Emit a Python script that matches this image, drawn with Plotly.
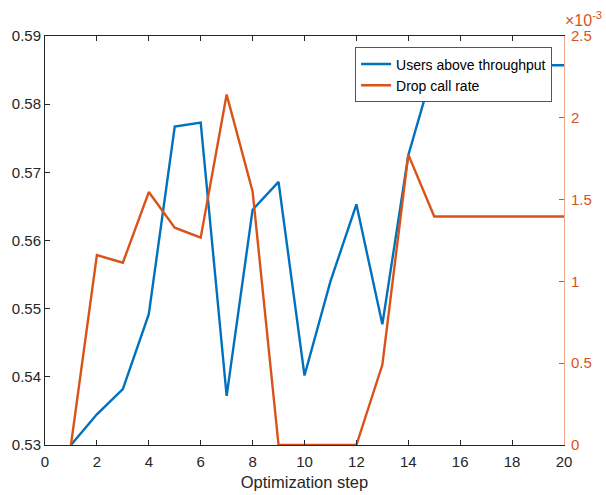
import plotly.graph_objects as go

steps = list(range(1, 21))
users_above = [0.5300, 0.5345, 0.5382, 0.5492, 0.5767, 0.5773, 0.5372, 0.5645, 0.5686, 0.5402,
               0.5540, 0.5653, 0.5477, 0.5725, 0.5857, 0.5857, 0.5857, 0.5857, 0.5857, 0.5857]
drop_rate = [0.0, 1.161e-3, 1.114e-3, 1.546e-3, 1.328e-3, 1.267e-3, 2.142e-3, 1.550e-3, 0.0, 0.0,
             0.0, 0.0, 0.490e-3, 1.775e-3, 1.397e-3, 1.397e-3, 1.397e-3, 1.397e-3, 1.397e-3, 1.397e-3]
x_ticks = list(range(0, 21, 2))
y_left_ticks = [0.53, 0.54, 0.55, 0.56, 0.57, 0.58, 0.59]
y_right_ticks = [0, 0.5e-3, 1.0e-3, 1.5e-3, 2.0e-3, 2.5e-3]
y_right_labels = ["0", "0.5", "1", "1.5", "2", "2.5"]

BLUE = "#0072BD"
ORANGE = "#D95319"
DARK = "#262626"
FONT = "Liberation Sans, Arial, sans-serif"

fig = go.Figure()
fig.add_trace(go.Scatter(x=steps, y=users_above, mode="lines", name="Users above throughput",
                         line=dict(color=BLUE, width=2.4), yaxis="y"))
fig.add_trace(go.Scatter(x=steps, y=drop_rate, mode="lines", name="Drop call rate",
                         line=dict(color=ORANGE, width=2.4), yaxis="y2"))

fig.update_layout(
    width=606, height=495,
    margin=dict(l=45, r=42, t=36, b=50),
    plot_bgcolor="white", paper_bgcolor="white",
    font=dict(family=FONT, size=15, color=DARK),
    showlegend=True,
    legend=dict(x=0.977, y=0.972, xanchor="right", yanchor="top",
                bgcolor="white", bordercolor="#555555", borderwidth=1,
                font=dict(size=14, color="black"),
                tracegroupgap=0),
    xaxis=dict(range=[0, 20], tickvals=x_ticks, ticks="inside", ticklen=5,
               showline=True, linecolor=DARK, linewidth=1, mirror="ticks",
               tickcolor=DARK, showgrid=False, zeroline=False, automargin=False,
               title=dict(text="Optimization step", standoff=7, font=dict(size=16.5)),
               tickfont=dict(size=15, color=DARK), ticklabelstandoff=3),
    yaxis=dict(range=[0.53, 0.59], tickvals=y_left_ticks, tickformat=".2f",
               ticks="inside", ticklen=5, showline=True, linecolor=DARK, linewidth=1,
               tickcolor=DARK, showgrid=False, zeroline=False, automargin=False,
               tickfont=dict(size=15, color=DARK)),
    yaxis2=dict(range=[0, 2.5e-3], overlaying="y", side="right",
                tickvals=y_right_ticks, ticktext=y_right_labels,
                ticks="inside", ticklen=5, showline=True, linecolor="#EFA88A", linewidth=1,
                tickcolor=ORANGE, showgrid=False, zeroline=False, automargin=False,
                tickfont=dict(size=15, color=ORANGE), ticklabelstandoff=3),
    annotations=[dict(text="×10<sup>-3</sup>", xref="paper", yref="paper",
                      x=1.0, y=1.0, xanchor="left", yanchor="bottom", yshift=5, xshift=-1,
                      showarrow=False, font=dict(size=16, color=ORANGE))],
)

fig.write_html("out.html")
